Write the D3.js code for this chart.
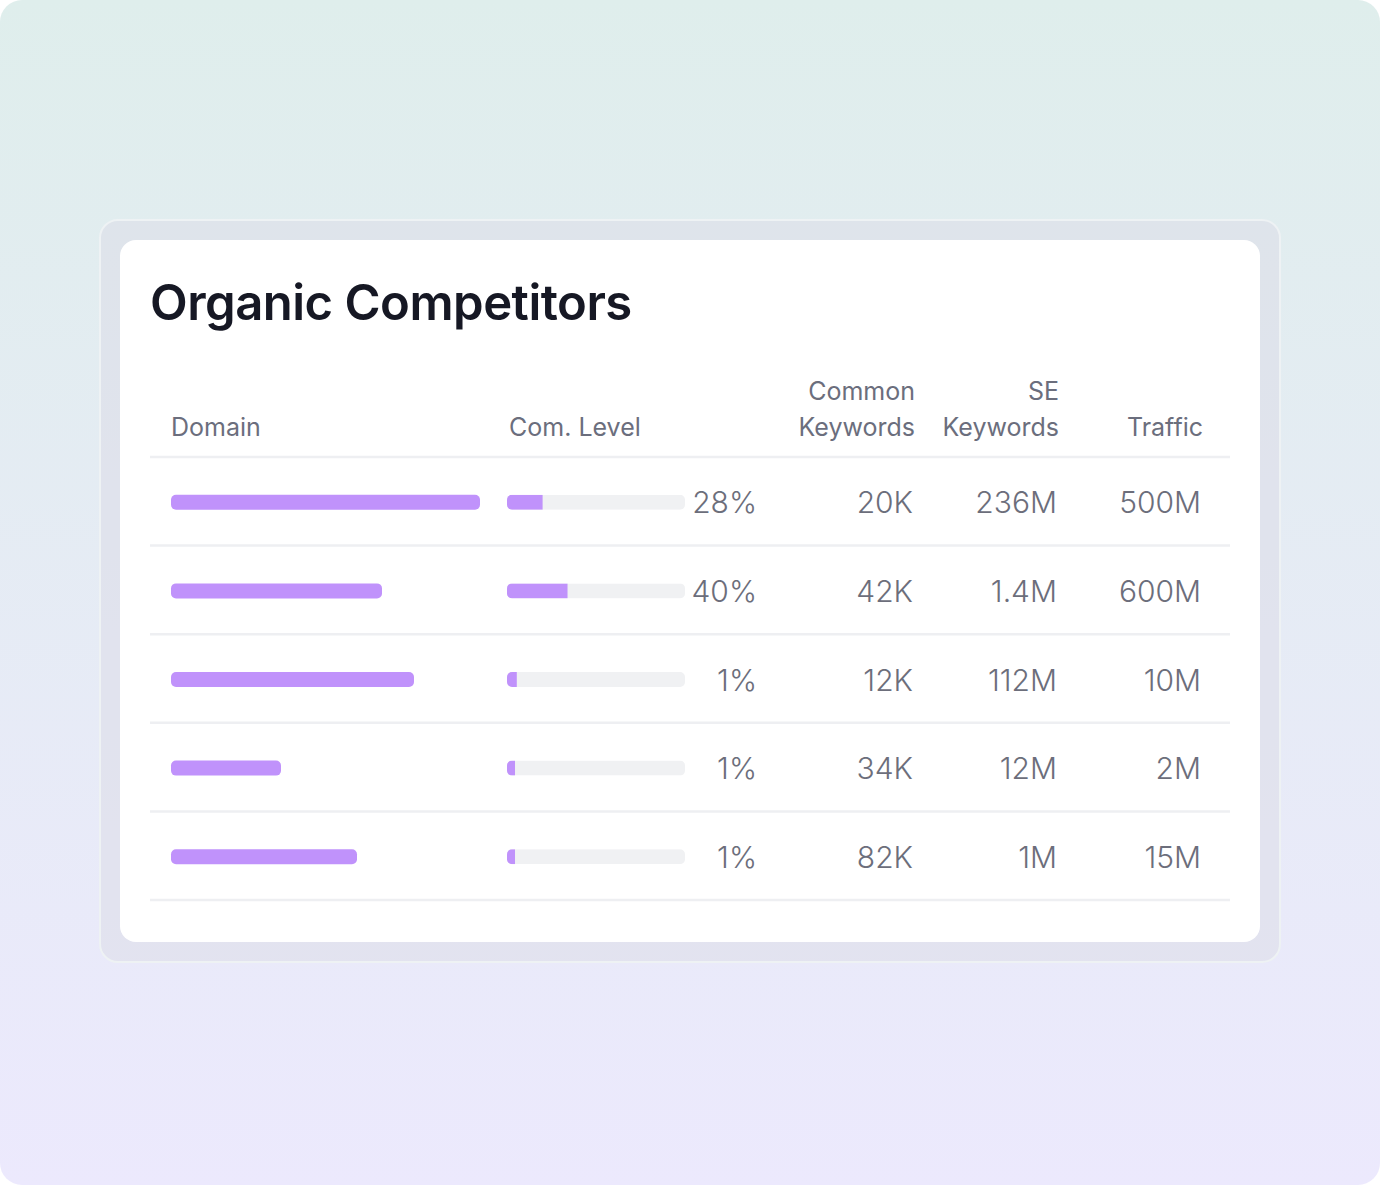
<!DOCTYPE html>
<html><head><meta charset="utf-8">
<script src="https://cdn.jsdelivr.net/npm/d3@7"></script>
<style>html,body{margin:0;padding:0;background:#fff}svg{display:block}</style>
</head><body><svg id="c" width="1380" height="1185"></svg>
<script>
const title = "Organic Competitors";
const headers = [["Domain"],["Com. Level"],["Common","Keywords"],["SE","Keywords"],["Traffic"]];
const domainLength = [309, 211, 243, 110, 186];   // placeholder domain name widths
const comLevel = ["28%","40%","1%","1%","1%"];
const comLevelFill = [20, 34, 5.5, 4.5, 4.5];      // visual fill of level bar (%)
const commonKeywords = ["20K","42K","12K","34K","82K"];
const seKeywords = ["236M","1.4M","112M","12M","1M"];
const traffic = ["500M","600M","10M","2M","15M"];

const svg = d3.select("#c");
const defs = svg.append("defs");
const g = defs.append("linearGradient").attr("id","bg").attr("x1",0).attr("y1",0).attr("x2",0).attr("y2",1);
g.append("stop").attr("offset","0%").attr("stop-color","#dfeeec");
g.append("stop").attr("offset","100%").attr("stop-color","#ece9fd");
svg.append("rect").attr("width",1380).attr("height",1185).attr("rx",22).attr("fill","url(#bg)");
svg.append("rect").attr("x",100).attr("y",220).attr("width",1180).attr("height",742).attr("rx",18)
  .attr("fill","#dcdde8").attr("fill-opacity",0.55).attr("stroke","#eef2f4").attr("stroke-width",2);
svg.append("rect").attr("x",120).attr("y",240).attr("width",1140).attr("height",702).attr("rx",16).attr("fill","#fff");

const font = "Inter, 'Noto Sans', sans-serif";
svg.append("text").attr("x",150).attr("y",320).text(title)
  .attr("font-family",font).attr("font-size",49).attr("font-weight",600).attr("fill","#161824").attr("letter-spacing",-0.5);

const colX = [171, 509, 915, 1059, 1203];
const colAnchor = ["start","start","end","end","end"];
headers.forEach((h,i)=>{
  h.forEach((line,j)=>{
    svg.append("text").attr("x",colX[i]).attr("y", 436 - (h.length-1-j)*36).text(line)
      .attr("text-anchor",colAnchor[i]).attr("font-family",font).attr("font-size",25)
      .attr("fill","#6b6e7d");
  });
});

const rows = d3.range(domainLength.length);
const y = d3.scaleBand().domain(rows).range([457, 900]);
const domX = d3.scaleLinear().domain([0, 309]).range([171, 480]);
const lvlX = d3.scaleLinear().domain([0, 100]).range([507, 685]);

svg.append("g").selectAll("line").data([-1, ...rows]).join("line")
  .attr("x1",150).attr("x2",1230)
  .attr("y1",d=> d<0 ? 457 : y(d)+y.bandwidth()).attr("y2",d=> d<0 ? 457 : y(d)+y.bandwidth())
  .attr("stroke","#eeeff2").attr("stroke-width",2.5);

const cy = d => y(d) + y.bandwidth()/2 + 1;
const bh = 15;
svg.append("g").selectAll("rect").data(rows).join("rect")
  .attr("x",domX(0)).attr("y",d=>cy(d)-bh/2).attr("height",bh).attr("rx",5)
  .attr("width",d=>domX(domainLength[d])-domX(0)).attr("fill","#c092fb");

svg.append("defs").selectAll("clipPath").data(rows).join("clipPath").attr("id",d=>"cl"+d)
  .append("rect").attr("x",lvlX(0)).attr("y",d=>cy(d)-bh/2).attr("height",bh).attr("rx",5)
  .attr("width",lvlX(100)-lvlX(0));
const lv = svg.append("g").selectAll("g").data(rows).join("g").attr("clip-path",d=>`url(#cl${d})`);
lv.append("rect").attr("x",lvlX(0)).attr("y",d=>cy(d)-bh/2).attr("height",bh)
  .attr("width",lvlX(100)-lvlX(0)).attr("fill","#f0f1f3");
lv.append("rect").attr("x",lvlX(0)).attr("y",d=>cy(d)-bh/2).attr("height",bh)
  .attr("width",d=>lvlX(comLevelFill[d])-lvlX(0)).attr("fill","#c092fb");

const valCols = [[comLevel,757],[commonKeywords,913],[seKeywords,1057],[traffic,1201]];
valCols.forEach(([arr,x])=>{
  svg.append("g").selectAll("text").data(rows).join("text")
    .attr("x",x).attr("y",d=>cy(d)+11).text(d=>arr[d])
    .attr("text-anchor","end").attr("font-family",font).attr("font-size",30).attr("font-weight",300)
    .attr("fill","#6c6e7b");
});
</script></body></html>
